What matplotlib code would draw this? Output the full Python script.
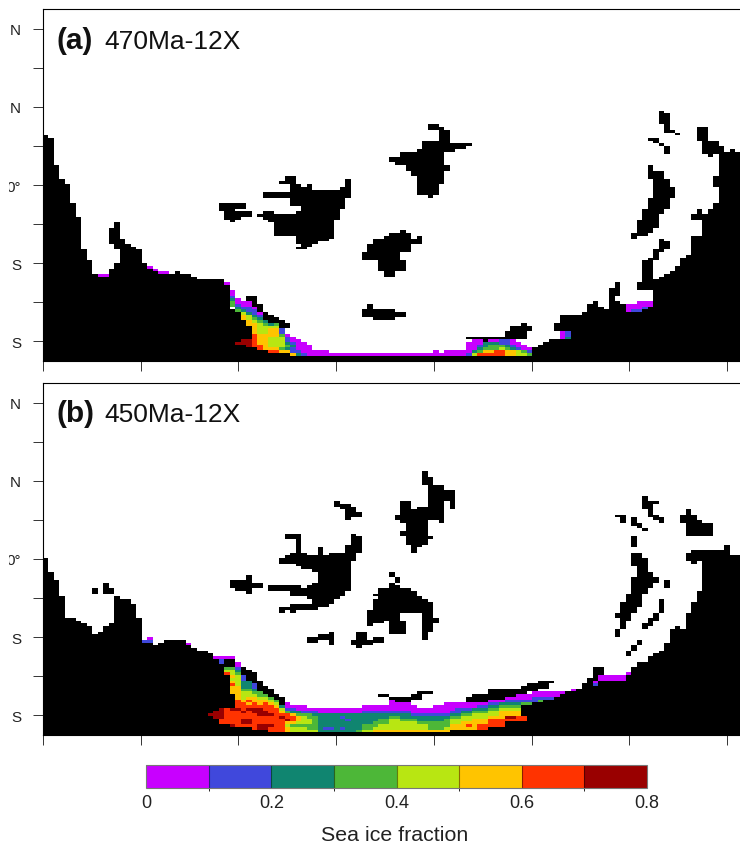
import numpy as np
import matplotlib
matplotlib.use("Agg")
import matplotlib.pyplot as plt
from matplotlib.colors import ListedColormap, BoundaryNorm
from matplotlib.transforms import Bbox

plt.rcParams['font.family'] = ['Liberation Sans', 'DejaVu Sans']

W, H = 740, 845
NLON, NLAT = 128, 100
DLON, DLAT = 2.8125, 0.6955

ice_colors = ['#C800FF', '#4048DC', '#108570', '#4DB738', '#B8E612', '#FFC400', '#FF3300', '#990000']
ice_levels = [0, 0.1, 0.2, 0.3, 0.4, 0.5, 0.6, 0.7, 0.8]
cbar_ticks = [0, 0.2, 0.4, 0.6, 0.8]
cbar_labels = ['0', '0.2', '0.4', '0.6', '0.8']
lon_ticks = [0, 50, 100, 150, 200, 250, 300, 350]
lat_ticks = [40, 30, 20, 10, 0, -10, -20, -30, -40]
# the reference shows only what is left of these labels after its left crop
lat_labels = ['N', '', 'N', '', '0°', '', 'S', '', 'S']

# height of the continent in each longitude column (grid rows from the south edge)
coast_a = [83, 82, 72, 67, 65, 58, 53, 41, 37, 32,
           31, 31, 34, 36, 45, 43, 42, 41, 36, 34,
           33, 32, 32, 32, 33, 32, 32, 31, 30, 30,
           30, 30, 30, 28, 19, 18, 15, 13, 10, 4,
           4, 3, 3, 3, 3, 2, 2, 2, 2, 2,
           2, 2, 2, 2, 2, 2, 2, 2, 2, 2,
           2, 2, 2, 2, 2, 2, 2, 2, 2, 2,
           2, 2, 2, 2, 2, 2, 2, 2, 2, 2,
           2, 2, 2, 2, 2, 2, 2, 2, 2,
           5, 6, 7, 8, 8, 17, 17, 17, 17, 18,
           21, 22, 20, 19, 20, 22, 21, 18, 18, 18,
           19, 20, 30, 31, 32, 33, 35, 38, 39, 46,
           46, 54, 56, 58, 76, 77, 78, 77, 77]
coast_b = [65, 60, 57, 51, 43, 43, 42, 41, 40, 37,
           38, 40, 41, 51, 50, 50, 48, 43, 34, 34,
           33, 34, 35, 35, 35, 35, 33, 32, 31, 31,
           30, 28, 26, 28, 28, 3, 3, 3, 2, 2,
           2, 1, 1, 1, 1, 1, 1, 1, 1, 1,
           1, 1, 1, 1, 1, 1, 1, 1, 1, 1,
           1, 1, 1, 1, 1, 1, 1, 1, 1, 1,
           1, 1, 1, 1, 2, 2, 2, 2, 2, 2,
           2, 3, 3, 3, 5, 5, 5, 11, 11, 12,
           12, 13, 13, 14, 15, 16, 16, 17, 19, 21,
           18, 20, 20, 20, 20, 20, 22, 25, 27, 27,
           29, 30, 31, 34, 39, 40, 39, 45, 49, 53,
           68, 68, 68, 68, 70, 66, 66, 66]

# other land: row from, row to, column from, column to
islands_a = [
    (41, 51, 13, 14), (43, 49, 12, 13),
    (56, 58, 32, 37), (55, 56, 32, 35), (53, 55, 33, 38), (52, 53, 33, 36), (51, 52, 34, 35),
    (66, 68, 44, 46), (65, 66, 43, 46), (64, 65, 45, 47), (64, 65, 48, 49), (63, 64, 45, 49),
    (62, 63, 45, 56), (60, 62, 40, 56), (59, 60, 45, 55), (57, 59, 45, 55), (56, 57, 47, 55),
    (55, 56, 47, 54), (54, 55, 40, 42), (54, 55, 46, 54), (53, 54, 39, 54), (52, 53, 40, 54),
    (51, 52, 41, 53), (46, 51, 42, 53), (45, 46, 46, 53), (44, 45, 46, 52), (43, 44, 46, 50),
    (42, 43, 47, 49), (41, 42, 46, 48), (63, 64, 54, 56), (64, 67, 55, 56),
    (22, 24, 37, 38), (20, 24, 38, 39), (18, 21, 39, 40), (15, 18, 40, 41), (14, 17, 41, 42),
    (14, 16, 42, 43), (12, 15, 43, 44), (12, 14, 44, 45),
    (47, 48, 65, 66), (46, 47, 63, 67), (45, 46, 62, 67), (45, 46, 68, 69), (43, 45, 60, 69),
    (40, 43, 59, 67), (37, 40, 58, 65), (33, 37, 61, 66), (31, 33, 62, 64),
    (19, 21, 59, 60), (18, 19, 58, 64), (16, 18, 58, 66), (15, 16, 60, 64),
    (85, 87, 70, 72), (85, 86, 72, 73), (81, 85, 72, 74), (80, 81, 69, 74), (79, 80, 69, 78),
    (78, 79, 69, 77), (77, 78, 68, 75), (75, 77, 65, 73), (73, 75, 63, 73), (72, 73, 64, 73),
    (70, 72, 66, 74), (68, 70, 67, 73), (65, 68, 68, 73), (61, 65, 68, 72), (60, 61, 70, 71),
    (8, 9, 77, 88), (9, 11, 84, 88), (11, 13, 85, 89), (13, 14, 87, 88), (7, 8, 80, 81),
    (11, 14, 93, 94), (20, 27, 103, 104), (24, 29, 104, 105),
    (26, 29, 108, 111), (29, 37, 109, 111), (37, 38, 110, 112), (38, 40, 111, 112),
    (40, 41, 111, 113), (41, 44, 112, 114), (44, 45, 112, 113),
    (70, 72, 110, 111), (67, 70, 110, 113), (64, 67, 111, 114), (60, 64, 111, 115),
    (56, 60, 110, 114), (54, 56, 109, 113), (52, 54, 109, 112), (49, 52, 108, 112),
    (47, 49, 108, 111), (46, 47, 107, 110), (45, 46, 107, 108),
    (91, 92, 112, 113), (87, 91, 112, 114), (85, 87, 113, 114), (84, 85, 113, 115), (83, 84, 115, 116),
    (81, 82, 110, 112), (80, 81, 111, 112), (79, 80, 112, 113), (76, 79, 113, 114),
    (81, 86, 119, 121), (79, 81, 120, 123), (76, 79, 120, 124), (75, 76, 121, 122),
    (64, 68, 122, 123), (52, 54, 118, 120), (54, 56, 119, 120),
]
islands_b = [
    (52, 54, 9, 10), (52, 56, 11, 12), (52, 54, 12, 13),
    (57, 59, 37, 38), (54, 57, 34, 38), (54, 56, 38, 40), (53, 54, 35, 38), (52, 53, 37, 38),
    (73, 74, 56, 57), (72, 74, 44, 47), (72, 73, 56, 58), (70, 72, 56, 58), (67, 72, 46, 47),
    (67, 70, 55, 58), (66, 67, 45, 48), (66, 69, 50, 51), (66, 67, 52, 57), (65, 66, 44, 57),
    (64, 65, 43, 57), (63, 64, 43, 56), (62, 63, 46, 56), (61, 62, 47, 56), (60, 61, 49, 56),
    (56, 60, 50, 56), (55, 56, 49, 56), (54, 55, 41, 47), (54, 55, 48, 56), (53, 54, 41, 56),
    (51, 53, 45, 55), (50, 51, 48, 54), (48, 50, 49, 53), (47, 48, 45, 52), (46, 47, 43, 50),
    (45, 46, 43, 44), (45, 46, 45, 46),
    (84, 86, 53, 54), (83, 85, 54, 56), (82, 84, 55, 57), (80, 82, 55, 58), (79, 80, 55, 56),
    (33, 38, 52, 53), (35, 37, 50, 52), (34, 36, 48, 50),
    (35, 38, 57, 59), (33, 35, 56, 60), (32, 33, 57, 58), (34, 36, 60, 62),
    (55, 56, 63, 64), (54, 55, 63, 65), (53, 54, 61, 67), (52, 53, 61, 68), (51, 52, 60, 68),
    (50, 51, 61, 69), (49, 50, 60, 70), (46, 49, 60, 71), (45, 46, 59, 71), (43, 45, 59, 65),
    (43, 45, 69, 71), (42, 43, 59, 65), (42, 43, 69, 72), (41, 42, 59, 62), (41, 42, 63, 66),
    (41, 42, 69, 72), (40, 41, 59, 60), (38, 41, 63, 66), (37, 38, 63, 66), (38, 41, 69, 71),
    (35, 38, 69, 70), (58, 60, 63, 64), (56, 58, 64, 65),
    (95, 97, 69, 70), (92, 95, 69, 71), (90, 92, 70, 73), (86, 90, 70, 75), (84, 86, 70, 73),
    (83, 86, 74, 75), (83, 86, 65, 67), (83, 84, 68, 73), (82, 83, 65, 73), (81, 82, 65, 73),
    (79, 81, 64, 73), (78, 79, 65, 70), (78, 79, 72, 73), (75, 78, 66, 70), (73, 75, 65, 70),
    (72, 73, 66, 71), (70, 72, 66, 70), (69, 70, 67, 69), (67, 69, 67, 68),
    (22, 25, 36, 37), (20, 24, 37, 38), (19, 23, 38, 39), (16, 20, 39, 40), (15, 18, 40, 41),
    (14, 17, 41, 42), (13, 15, 42, 43), (11, 14, 43, 44),
    (14, 15, 61, 63), (13, 14, 63, 64), (12, 14, 64, 67), (13, 15, 67, 69), (15, 16, 68, 71),
    (12, 14, 77, 81), (14, 15, 78, 81), (13, 17, 81, 84), (14, 17, 84, 86), (15, 17, 86, 88),
    (16, 18, 87, 90), (17, 19, 88, 92), (19, 20, 90, 93),
    (20, 25, 100, 101), (22, 25, 101, 102),
    (86, 88, 109, 110), (83, 86, 109, 111), (85, 86, 111, 112), (81, 83, 110, 111),
    (80, 81, 110, 112), (79, 80, 111, 113), (78, 79, 112, 113),
    (80, 81, 104, 106), (78, 80, 105, 106), (77, 80, 107, 108), (76, 78, 108, 109), (75, 76, 109, 110),
    (69, 73, 107, 108),
    (65, 67, 107, 109), (62, 65, 107, 110), (60, 62, 108, 110), (58, 60, 108, 111), (56, 58, 107, 112),
    (54, 56, 107, 111), (52, 54, 107, 110), (49, 52, 106, 109), (47, 49, 105, 109), (45, 47, 105, 108),
    (43, 45, 104, 107), (42, 43, 105, 107), (39, 42, 105, 106), (36, 39, 104, 105),
    (54, 57, 113, 114), (45, 50, 112, 113), (42, 45, 111, 112), (40, 43, 110, 111), (39, 41, 109, 110),
    (33, 35, 108, 109), (31, 33, 107, 108), (29, 31, 106, 107),
    (81, 83, 117, 118), (78, 81, 116, 119), (78, 79, 117, 120), (73, 78, 117, 122),
    (64, 67, 117, 118), (64, 68, 118, 120), (63, 64, 118, 119),
]

# sea ice class per column: column, lowest row, classes going north (0 = 0-0.1 ... 7 = 0.7-0.8)
ice_a = [
    (10, 31, "0"), (11, 31, "0"), (19, 34, "0"), (20, 33, "0"), (21, 32, "0"), (22, 32, "0"), (33, 28, "0"),
    (34, 20, "332100"), (35, 18, "32100"), (35, 6, "7"), (36, 15, "5542100"), (36, 6, "77"),
    (37, 5, "777"), (37, 13, "554421100"), (38, 5, "666665555432110"), (39, 4, "66555544443210"),
    (40, 4, "55555544432"), (41, 3, "65444455542"), (42, 3, "65444455543"), (43, 3, "534444311"),
    (44, 3, "5232110"), (45, 2, "5112100"), (46, 2, "210000"), (47, 2, "10000"), (48, 2, "0000"),
    (49, 2, "00"), (50, 2, "00"), (51, 2, "00"),
    (71, 2, "00"), (73, 2, "00"), (74, 2, "00"), (75, 2, "00"), (76, 2, "00"),
    (77, 2, "10000"), (78, 2, "420000"), (79, 2, "632100"), (80, 2, "65322"), (81, 2, "653320"),
    (82, 2, "663320"), (83, 2, "664311"), (84, 2, "553211"), (85, 2, "552100"), (86, 2, "44100"),
    (87, 2, "4300"), (88, 2, "310"), (94, 8, "000"), (95, 8, "211"),
    (106, 18, "000"), (107, 18, "100"), (108, 18, "1000"), (109, 19, "100"), (110, 20, "00"),
] + [(c, 2, "0") for c in list(range(52, 71)) + [72]]
ice_b = [
    (18, 34, "1"), (19, 34, "10"), (26, 33, "0"), (31, 28, "0"), (32, 26, "110"), (33, 28, "0"), (34, 28, "0"),
    (30, 7, "7"), (31, 6, "777"), (32, 4, "667777"), (33, 4, "666666"), (33, 22, "643"),
    (34, 3, "7666667"), (34, 15, "5556545443"), (35, 3, "666666766655555444432100"),
    (36, 3, "6776676665444322211"), (37, 3, "67766676565443222"), (38, 2, "66666677665543211"),
    (39, 2, "77666777655433"), (40, 2, "7766677666543"), (41, 1, "6676667666543"),
    (42, 1, "666666666543"), (43, 1, "6666676542"), (44, 1, "55457663100"), (45, 1, "4435665210"),
    (46, 1, "4434553200"), (47, 1, "4434443100"), (48, 1, "433443310"), (49, 1, "433333210"),
    (50, 1, "222222200"), (51, 1, "212222200"), (52, 1, "212222200"), (53, 1, "222222200"),
    (54, 1, "212221200"), (55, 1, "222212200"), (56, 1, "222222200"), (57, 1, "322222200"),
    (58, 1, "4332222100"), (59, 1, "4332222100"), (60, 1, "5433222100"), (61, 1, "5443322100"),
    (62, 1, "5443322100"), (63, 1, "544443210000"), (64, 1, "54444321000"), (65, 1, "54443221000"),
    (66, 1, "54443221000"), (67, 1, "5444321000"), (68, 1, "544322100"), (69, 1, "544322100"),
    (70, 1, "533322100"), (71, 1, "5333221000"), (72, 1, "5333221000"), (73, 1, "54333210000"),
    (74, 2, "5544321000"), (75, 2, "5544321100"), (76, 2, "5554432100"), (77, 2, "5654432100"),
    (78, 2, "5555443200"), (79, 2, "6655443210"), (80, 2, "6655443210"), (81, 3, "6665443210"),
    (82, 3, "6665443210"), (83, 3, "6665554320"), (84, 5, "675543210"), (85, 5, "675543210"),
    (86, 5, "6655432100"), (87, 5, "66"), (87, 11, "3100"), (88, 11, "3100"), (89, 12, "1100"),
    (90, 12, "3100"), (91, 13, "100"), (92, 13, "100"), (93, 14, "00"), (94, 15, "0"), (96, 16, "0"),
    (100, 18, "10"), (101, 20, "00"), (102, 20, "00"), (103, 20, "00"), (104, 20, "00"), (105, 20, "00"),
    (106, 22, "0"),
]


def make_grids(coast, islands, ice):
    land = np.zeros((NLAT, NLON), dtype=bool)
    for c, top in enumerate(coast):
        land[:top, c] = True
    for r0, r1, c0, c1 in islands:
        land[r0:r1, c0:c1] = True
    frac = np.full((NLAT, NLON), np.nan)
    for c, r0, classes in ice:
        for k, digit in enumerate(classes):
            frac[r0 + k, c] = int(digit) * 0.1 + 0.05
    return land, np.ma.masked_invalid(frac)


def draw_land(ax, land):
    # row by row, so the antialiased row edges leave the same faint seams as the reference
    for r in range(NLAT):
        row = np.concatenate(([0], land[r].astype(int), [0]))
        starts = np.flatnonzero(np.diff(row) == 1)
        stops = np.flatnonzero(np.diff(row) == -1)
        if len(starts):
            runs = [(lon[a], lon[b] - lon[a]) for a, b in zip(starts, stops)]
            ax.broken_barh(runs, (lat[r], DLAT), facecolors='black', linewidth=0)


def px_axes(x0, y0, x1, y1):
    return fig.add_axes([x0 / W, 1 - y1 / H, (x1 - x0) / W, (y1 - y0) / H])


cmap = ListedColormap(ice_colors)
norm = BoundaryNorm(ice_levels, cmap.N)
lon = np.arange(NLON + 1) * DLON
lat = -45 + np.arange(NLAT + 1) * DLAT

fig = plt.figure(figsize=(W / 100, H / 100), dpi=100)

panels = [(coast_a, islands_a, ice_a, 10, 362, '(a)', '470Ma-12X', 49),
          (coast_b, islands_b, ice_b, 384, 736, '(b)', '450Ma-12X', 422)]
for coast, islands, ice, top, bottom, tag, name, base in panels:
    ax = px_axes(43, top, 43 + NLON * DLON * 97.7 / 50, bottom)
    land, frac = make_grids(coast, islands, ice)
    draw_land(ax, land)
    mesh = ax.pcolormesh(lon, lat, frac, cmap=cmap, norm=norm, zorder=2)
    ax.set_xlim(0, NLON * DLON)
    ax.set_ylim(-45, 45)
    ax.set_xticks(lon_ticks, [''] * len(lon_ticks))
    ax.set_yticks(lat_ticks, lat_labels, fontsize=11, color='#222222')
    ax.tick_params(length=7.2, width=0.7, color='#333333', pad=8.6)
    for lab in ax.get_yticklabels():
        if lab.get_text() == '0°':
            lab.set_clip_box(Bbox([[8.6, 0], [60, H]]))
            lab.set_clip_on(True)
    ax.spines['right'].set_visible(False)
    for s in ax.spines.values():
        s.set_linewidth(0.8)
        s.set_zorder(3)
    fig.text(56 / W, 1 - base / H, tag, fontsize=21.5, fontweight='bold', color='#111111')
    fig.text(104 / W, 1 - base / H, name, fontsize=19, color='#111111')

cax = px_axes(146, 766, 647, 789)
cb = fig.colorbar(mesh, cax=cax, orientation='horizontal', ticks=cbar_ticks, spacing='proportional', drawedges=True)
cb.ax.set_xticklabels(cbar_labels, fontsize=13, color='#222222')
cb.ax.tick_params(length=0, pad=4.5)
cb.outline.set_edgecolor('#777777')
cb.outline.set_linewidth(0.8)
cb.dividers.set_color('#000000')
cb.dividers.set_alpha(0.45)
cb.dividers.set_linewidth(0.8)
fig.text(394.5 / W, 1 - 836 / H, 'Sea ice fraction', fontsize=15.4, color='#222222', ha='center', va='center')

fig.savefig('out.png', dpi=100)
